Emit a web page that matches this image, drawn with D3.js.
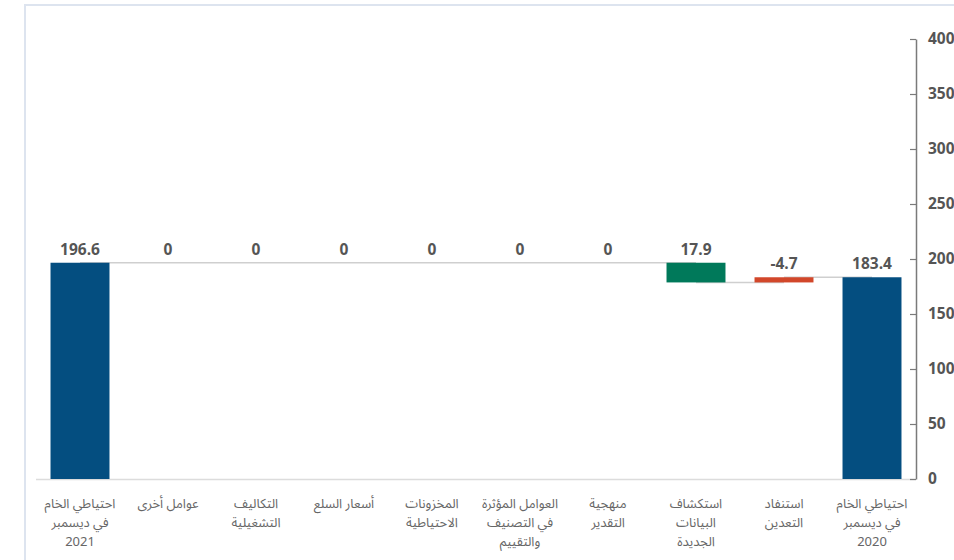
<!DOCTYPE html>
<html>
<head>
<meta charset="utf-8">
<script src="https://cdn.jsdelivr.net/npm/d3@7"></script>
<style>
  html, body { margin: 0; padding: 0; background: #fff; }
  svg { display: block; }
  .num { font-family: "Open Sans", "DejaVu Sans", sans-serif; font-weight: 700; fill: #555; }
  .cat { font-family: "Noto Sans Arabic", "DejaVu Sans", sans-serif; fill: #666; }
</style>
</head>
<body>
<div id="chart"></div>
<script>
// waterfall, read right to left (first item is the rightmost bar)
const categories = [
  ["احتياطي الخام", "في ديسمبر", "2020"],
  ["استنفاد", "التعدين"],
  ["استكشاف", "البيانات", "الجديدة"],
  ["منهجية", "التقدير"],
  ["العوامل المؤثرة", "في التصنيف", "والتقييم"],
  ["المخزونات", "الاحتياطية"],
  ["أسعار السلع"],
  ["التكاليف", "التشغيلية"],
  ["عوامل أخرى"],
  ["احتياطي الخام", "في ديسمبر", "2021"]
];
const values = [183.4, -4.7, 17.9, 0, 0, 0, 0, 0, 0, 196.6];
const kinds = ["total", "step", "step", "step", "step", "step", "step", "step", "step", "total"];
const yTicks = [0, 50, 100, 150, 200, 250, 300, 350, 400];

const colors = { total: "#044e80", up: "#00795a", down: "#d2472a" };

const W = 954, H = 560;
const svg = d3.select("#chart").append("svg").attr("width", W).attr("height", H);

// light frame around the chart
svg.append("path")
  .attr("d", `M25,${H + 5} L25,5 L${W + 5},5`)
  .attr("fill", "none")
  .attr("stroke", "#dde4ef")
  .attr("stroke-width", 2);

const x = d3.scaleBand()
  .domain(d3.range(categories.length))
  .range([916, 36])
  .paddingInner(0.33)
  .paddingOuter(0.165);

const y = d3.scaleLinear().domain([0, 400]).range([479, 39]);

// compute running totals
let run = 0;
const bars = values.map((v, i) => {
  let lo, hi;
  if (kinds[i] === "total") { lo = 0; hi = v; run = v; }
  else { const start = run; run = run + v; lo = Math.min(start, run); hi = Math.max(start, run); }
  return { i, v, lo, hi, end: run, kind: kinds[i] };
});

// baseline
svg.append("line")
  .attr("x1", 36).attr("x2", 916)
  .attr("y1", y(0) + 0.5).attr("y2", y(0) + 0.5)
  .attr("stroke", "#dcdcdc").attr("stroke-width", 1.5);

// connectors from bar centre to next bar centre
svg.append("g").selectAll("line")
  .data(bars.slice(0, -1))
  .join("line")
  .attr("x1", d => x(d.i) + x.bandwidth() / 2)
  .attr("x2", d => x(d.i + 1) + x.bandwidth() / 2)
  .attr("y1", d => y(d.end))
  .attr("y2", d => y(d.end))
  .attr("stroke", "#cfcfcf")
  .attr("stroke-width", 1.5);

// bars
svg.append("g").selectAll("rect")
  .data(bars.filter(d => d.hi - d.lo > 0))
  .join("rect")
  .attr("x", d => x(d.i))
  .attr("width", x.bandwidth())
  .attr("y", d => y(d.hi))
  .attr("height", d => y(d.lo) - y(d.hi))
  .attr("fill", d => d.kind === "total" ? colors.total : (d.v >= 0 ? colors.up : colors.down));

// value labels
svg.append("g").selectAll("text")
  .data(bars)
  .join("text")
  .attr("class", "num")
  .attr("x", d => x(d.i) + x.bandwidth() / 2)
  .attr("y", d => y(d.hi) - 8)
  .attr("text-anchor", "middle")
  .attr("font-size", 15.5)
  .text(d => d.v);

// category labels
const catG = svg.append("g").selectAll("text")
  .data(bars)
  .join("text")
  .attr("class", "cat")
  .attr("direction", "rtl")
  .attr("text-anchor", "middle")
  .attr("font-size", 13)
  .attr("x", d => x(d.i) + x.bandwidth() / 2)
  .attr("y", 508);
catG.selectAll("tspan")
  .data(d => categories[d.i].map(t => ({ t, cx: x(d.i) + x.bandwidth() / 2 })))
  .join("tspan")
  .attr("x", d => d.cx)
  .attr("dy", (d, k) => k === 0 ? 0 : 19)
  .text(d => d.t);

// right axis, ticks pointing inward
const axis = d3.axisRight(y).tickValues(yTicks).tickSizeInner(-6).tickSizeOuter(0).tickPadding(12);
const ax = svg.append("g").attr("transform", "translate(916,0)").call(axis);
ax.select(".domain").attr("stroke", "#7a7a7a").attr("stroke-width", 1.5);
ax.selectAll(".tick line").attr("stroke", "#7a7a7a").attr("stroke-width", 1.2);
ax.selectAll(".tick text")
  .attr("class", "num")
  .attr("font-size", 15.5)
  .attr("fill", "#555");
</script>
</body>
</html>
